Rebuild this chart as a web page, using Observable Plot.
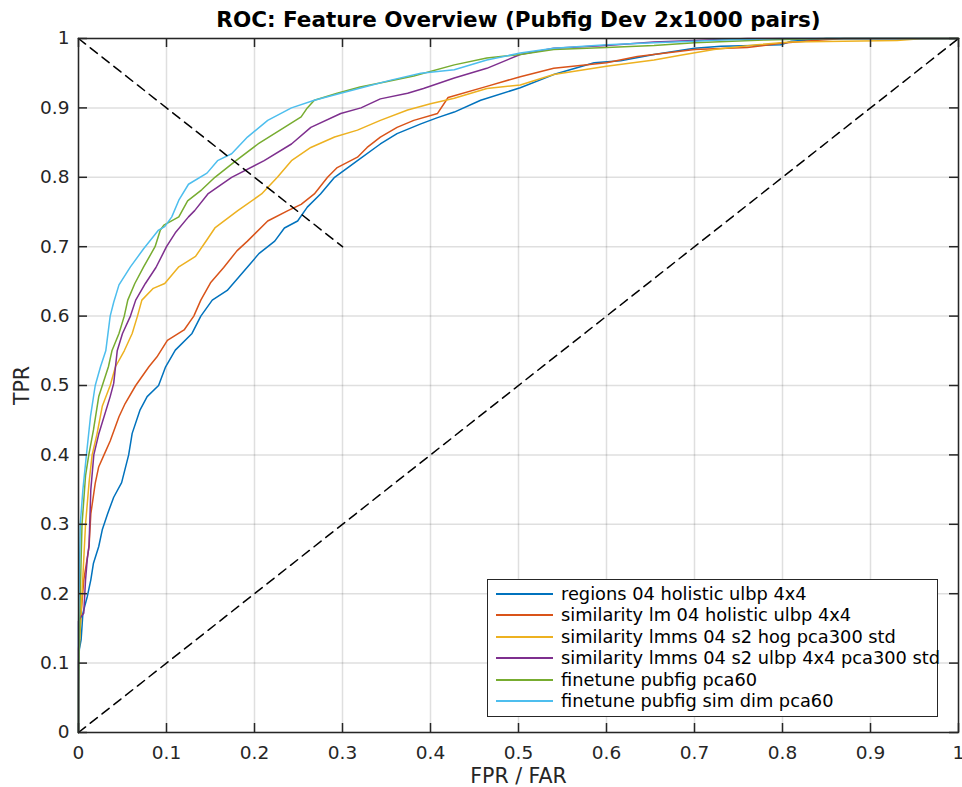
<!DOCTYPE html>
<html>
<head>
<meta charset="utf-8">
<script src="https://cdn.jsdelivr.net/npm/d3@7"></script>
<script src="https://cdn.jsdelivr.net/npm/@observablehq/plot@0.6"></script>
<style>
  html, body { margin: 0; padding: 0; background: #fff; }
  #wrap { position: relative; width: 962px; height: 787px; font-family: "DejaVu Sans", sans-serif; }
  #wrap svg { position: absolute; left: 0; top: 0; overflow: visible; }
  #legend { position: absolute; left: 487px; top: 579px; width: 449px; height: 133px;
            border: 1.5px solid #262626; background: #fff; padding-top: 3px; box-sizing: content-box;
            font-size: 17.8px; color: #000; white-space: nowrap; overflow: visible; }
  #legend .row { height: 21.4px; line-height: 21.4px; position: relative; }
  #legend .sw { position: absolute; left: 8px; top: 10px; width: 57px; height: 2px; }
  #legend .tx { position: absolute; left: 73px; top: 0; }
</style>
</head>
<body>
<div id="wrap"></div>
<script>
// ---- data ----
const titleText = "ROC: Feature Overview (Pubfig Dev 2x1000 pairs)";
const xLabel = "FPR / FAR";
const yLabel = "TPR";
const xTicks = [0, 0.1, 0.2, 0.3, 0.4, 0.5, 0.6, 0.7, 0.8, 0.9, 1];
const yTicks = [0, 0.1, 0.2, 0.3, 0.4, 0.5, 0.6, 0.7, 0.8, 0.9, 1];

const seriesNames = [
  "regions 04 holistic ulbp 4x4",
  "similarity lm 04 holistic ulbp 4x4",
  "similarity lmms 04 s2 hog pca300 std",
  "similarity lmms 04 s2 ulbp 4x4 pca300 std",
  "finetune pubfig pca60",
  "finetune pubfig sim dim pca60"
];
const seriesColors = ["#0072BD", "#D95319", "#EDB120", "#7E2F8E", "#77AC30", "#4DBEEE"];

// [FPR, TPR] pairs
const rocRegions = [[0,0],[0,0.1],[0.001,0.12],[0.003,0.134],[0.005,0.172],[0.01,0.196],[0.014,0.22],[0.017,0.244],[0.023,0.268],[0.027,0.292],[0.033,0.315],[0.04,0.339],[0.049,0.36],[0.057,0.4],[0.061,0.431],[0.07,0.465],[0.078,0.484],[0.091,0.5],[0.099,0.527],[0.11,0.551],[0.129,0.575],[0.139,0.6],[0.152,0.623],[0.169,0.637],[0.182,0.656],[0.195,0.675],[0.205,0.69],[0.223,0.708],[0.234,0.727],[0.249,0.737],[0.26,0.757],[0.275,0.776],[0.291,0.8],[0.317,0.824],[0.343,0.848],[0.362,0.863],[0.389,0.877],[0.408,0.886],[0.427,0.894],[0.457,0.911],[0.502,0.929],[0.54,0.948],[0.586,0.965],[0.616,0.968],[0.654,0.977],[0.7,0.986],[0.73,0.989],[0.798,0.991],[0.81,0.996],[0.85,1],[1,1]];
const rocSimLm = [[0,0],[0,0.12],[0.003,0.172],[0.006,0.22],[0.012,0.268],[0.014,0.315],[0.019,0.359],[0.023,0.383],[0.029,0.4],[0.036,0.42],[0.046,0.455],[0.053,0.474],[0.065,0.5],[0.08,0.527],[0.089,0.541],[0.101,0.565],[0.12,0.58],[0.131,0.6],[0.139,0.623],[0.15,0.648],[0.165,0.67],[0.18,0.694],[0.192,0.708],[0.215,0.737],[0.238,0.752],[0.253,0.761],[0.268,0.776],[0.283,0.8],[0.294,0.814],[0.317,0.829],[0.328,0.843],[0.343,0.858],[0.362,0.872],[0.381,0.882],[0.408,0.892],[0.42,0.915],[0.464,0.931],[0.502,0.945],[0.54,0.957],[0.6,0.965],[0.635,0.974],[0.7,0.984],[0.76,0.987],[0.798,0.993],[0.836,0.997],[0.87,1],[1,1]];
const rocHog = [[0,0],[0,0.1],[0.004,0.2],[0.008,0.3],[0.012,0.36],[0.0155,0.4],[0.021,0.43],[0.027,0.47],[0.036,0.5],[0.042,0.527],[0.052,0.55],[0.061,0.575],[0.067,0.6],[0.072,0.623],[0.085,0.64],[0.098,0.647],[0.114,0.671],[0.133,0.686],[0.146,0.71],[0.155,0.727],[0.181,0.752],[0.208,0.776],[0.226,0.8],[0.242,0.824],[0.264,0.843],[0.291,0.858],[0.317,0.868],[0.343,0.882],[0.374,0.897],[0.4,0.906],[0.427,0.914],[0.464,0.928],[0.502,0.933],[0.54,0.948],[0.6,0.96],[0.654,0.969],[0.684,0.976],[0.722,0.984],[0.771,0.991],[0.809,0.995],[0.93,0.997],[0.96,1],[1,1]];
const rocUlbpPca = [[0,0],[0,0.16],[0.002,0.165],[0.006,0.172],[0.008,0.22],[0.01,0.25],[0.012,0.27],[0.014,0.35],[0.0174,0.4],[0.023,0.43],[0.036,0.484],[0.04,0.503],[0.044,0.55],[0.05,0.575],[0.059,0.6],[0.065,0.623],[0.076,0.647],[0.088,0.67],[0.1,0.7],[0.11,0.72],[0.125,0.743],[0.132,0.752],[0.147,0.776],[0.174,0.8],[0.211,0.824],[0.242,0.848],[0.264,0.872],[0.298,0.892],[0.321,0.9],[0.343,0.913],[0.374,0.921],[0.392,0.928],[0.427,0.943],[0.464,0.957],[0.502,0.977],[0.54,0.986],[0.6,0.99],[0.654,0.995],[0.7,0.997],[0.76,1],[1,1]];
const rocFinetune = [[0,0],[0,0.06],[0.002,0.2],[0.004,0.3],[0.008,0.37],[0.0117,0.4],[0.017,0.436],[0.023,0.484],[0.034,0.527],[0.038,0.55],[0.046,0.575],[0.052,0.6],[0.056,0.623],[0.064,0.647],[0.074,0.671],[0.087,0.7],[0.093,0.724],[0.097,0.731],[0.114,0.743],[0.124,0.766],[0.14,0.782],[0.155,0.8],[0.179,0.824],[0.204,0.848],[0.234,0.872],[0.253,0.887],[0.26,0.9],[0.268,0.911],[0.294,0.921],[0.32,0.93],[0.351,0.938],[0.381,0.946],[0.427,0.962],[0.464,0.972],[0.502,0.977],[0.54,0.984],[0.6,0.987],[0.654,0.99],[0.7,0.994],[0.78,0.998],[0.85,1],[1,1]];
const rocFinetuneSim = [[0,0],[0,0.15],[0.002,0.3],[0.005,0.35],[0.009,0.4],[0.0136,0.455],[0.019,0.5],[0.025,0.527],[0.031,0.55],[0.036,0.6],[0.04,0.62],[0.046,0.645],[0.059,0.671],[0.074,0.697],[0.091,0.724],[0.098,0.729],[0.106,0.743],[0.114,0.767],[0.125,0.79],[0.146,0.806],[0.158,0.824],[0.174,0.834],[0.192,0.858],[0.215,0.882],[0.242,0.9],[0.268,0.911],[0.298,0.921],[0.325,0.93],[0.355,0.94],[0.389,0.95],[0.427,0.955],[0.464,0.969],[0.502,0.979],[0.54,0.986],[0.6,0.991],[0.654,0.994],[0.7,0.996],[0.73,0.998],[0.8,1],[1,1]];
const rocSeries = [rocRegions, rocSimLm, rocHog, rocUlbpPca, rocFinetune, rocFinetuneSim];

const chanceLine = [[0,0],[1,1]];
const eerLine = [[0,1],[0.3,0.7]];

// ---- chart ----
const W = 962, H = 787;
const M = {top: 38, right: 4, bottom: 55, left: 78};
const plotW = W - M.left - M.right, plotH = H - M.top - M.bottom;
const tickLen = 9;
const axisColor = "#262626";
const fmt = d3.format("~g");

const lineMarks = rocSeries.map((s, i) =>
  Plot.line(s, {x: d => d[0], y: d => d[1], stroke: seriesColors[i], strokeWidth: 1.5}));

const chart = Plot.plot({
  width: W, height: H,
  marginTop: M.top, marginRight: M.right, marginBottom: M.bottom, marginLeft: M.left,
  x: {domain: [0, 1]},
  y: {domain: [0, 1]},
  style: {fontFamily: "DejaVu Sans, sans-serif", fontSize: "18.5px", color: axisColor, background: "#fff", overflow: "visible"},
  marks: [
    Plot.ruleX(xTicks, {x: d => d, stroke: axisColor, strokeOpacity: 0.15, strokeWidth: 1.5}),
    Plot.ruleY(yTicks, {y: d => d, stroke: axisColor, strokeOpacity: 0.15, strokeWidth: 1.5}),
    ...lineMarks,
    Plot.line(chanceLine, {x: d => d[0], y: d => d[1], stroke: "#000", strokeWidth: 1.5, strokeDasharray: "9,6"}),
    Plot.line(eerLine, {x: d => d[0], y: d => d[1], stroke: "#000", strokeWidth: 1.5, strokeDasharray: "9,6"}),
    Plot.tickX(xTicks, {x: d => d, insetTop: plotH - tickLen, stroke: axisColor, strokeWidth: 1.5}),
    Plot.tickX(xTicks, {x: d => d, insetBottom: plotH - tickLen, stroke: axisColor, strokeWidth: 1.5}),
    Plot.tickY(yTicks, {y: d => d, insetRight: plotW - tickLen, stroke: axisColor, strokeWidth: 1.5}),
    Plot.tickY(yTicks, {y: d => d, insetLeft: plotW - tickLen, stroke: axisColor, strokeWidth: 1.5}),
    Plot.frame({stroke: axisColor, strokeWidth: 1.5}),
    Plot.axisX({ticks: xTicks, tickFormat: fmt, tickSize: 0, tickPadding: 13, label: null}),
    Plot.axisY({ticks: yTicks, tickFormat: fmt, tickSize: 0, tickPadding: 9, label: null}),
    Plot.text([xLabel], {frameAnchor: "bottom", lineAnchor: "middle", dy: 44, fontSize: 20.5, fill: axisColor}),
    Plot.text([yLabel], {frameAnchor: "left", textAnchor: "middle", lineAnchor: "middle", dx: -56, rotate: -90, fontSize: 20.5, fill: axisColor}),
    Plot.text([titleText], {frameAnchor: "top", lineAnchor: "middle", dy: -18, fontSize: 21.5, fontWeight: "bold", fill: "#000"})
  ]
});

const wrap = document.getElementById("wrap");
wrap.appendChild(chart);

// legend (HTML overlay inside the axes, like MATLAB's)
const legend = document.createElement("div");
legend.id = "legend";
seriesNames.forEach((name, i) => {
  const row = document.createElement("div");
  row.className = "row";
  const sw = document.createElement("span");
  sw.className = "sw";
  sw.style.background = seriesColors[i];
  const tx = document.createElement("span");
  tx.className = "tx";
  tx.textContent = name;
  row.appendChild(sw);
  row.appendChild(tx);
  legend.appendChild(row);
});
wrap.appendChild(legend);
</script>
</body>
</html>
